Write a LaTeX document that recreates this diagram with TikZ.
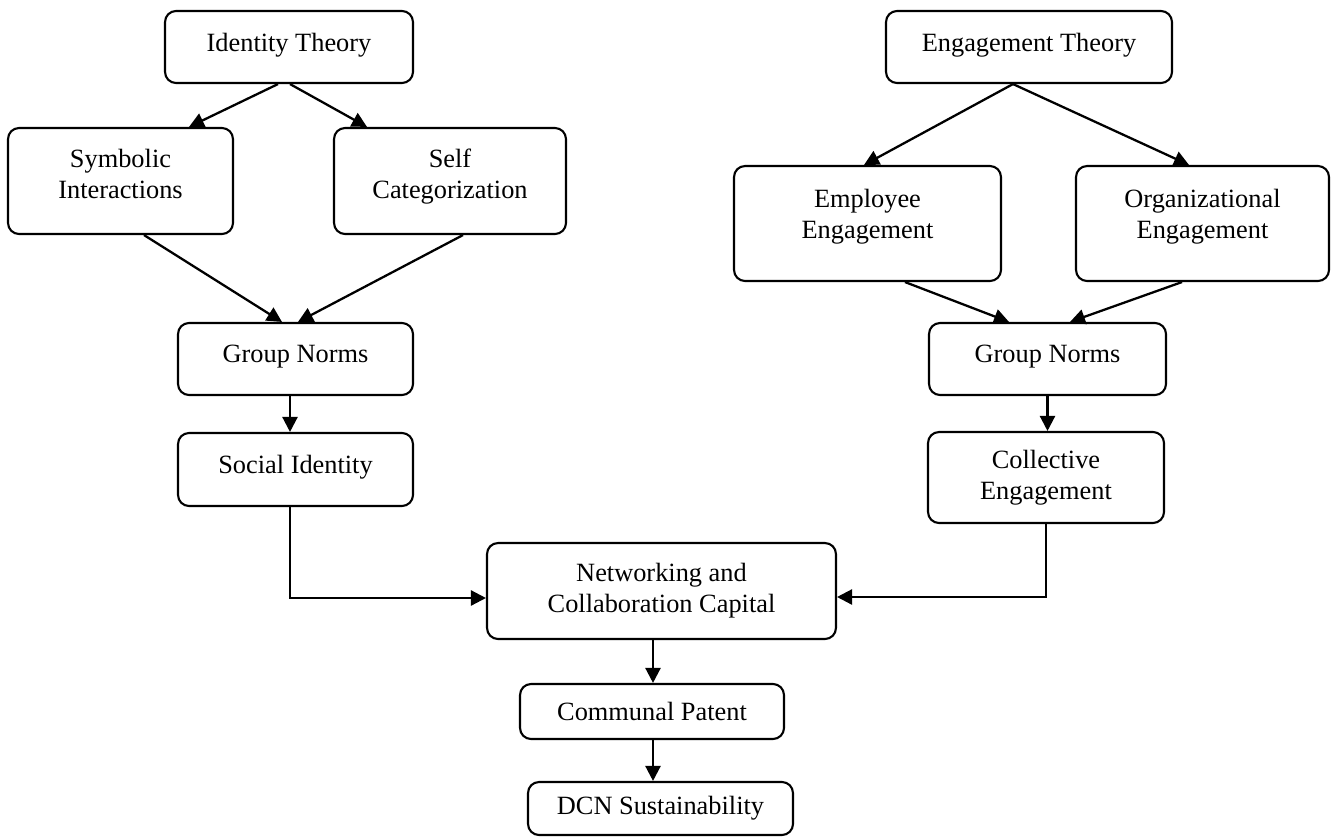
\documentclass[tikz,border=0pt]{standalone}
\usepackage{fontspec}
\setmainfont{Liberation Serif}
\usetikzlibrary{arrows.meta}
\begin{document}
\begin{tikzpicture}[x=0.02cm,y=-0.02cm,
  box/.style={draw=black,line width=1.2pt,rounded corners=0.22cm,align=center,
    inner sep=0pt,font=\fontsize{15}{17.5}\selectfont},
  conn/.style={line width=1.3pt,-{Triangle[length=0.3cm,width=0.3cm]}}]
\useasboundingbox (0,0) rectangle (1333,836);
% left branch
\node[box,minimum width=4.96cm,minimum height=1.44cm,text depth=0.2cm] (it) at (289,47) {Identity Theory};
\node[box,minimum width=4.5cm,minimum height=2.12cm,text depth=0.28cm] (si) at (120.5,181) {Symbolic\\Interactions};
\node[box,minimum width=4.64cm,minimum height=2.12cm,text depth=0.28cm] (sc) at (450,181) {Self\\Categorization};
\node[box,minimum width=4.7cm,minimum height=1.44cm,text depth=0.22cm] (gn1) at (295.5,359) {Group Norms};
\node[box,minimum width=4.7cm,minimum height=1.46cm,text depth=0.22cm] (sid) at (295.5,469.5) {Social Identity};
% right branch
\node[box,minimum width=5.72cm,minimum height=1.44cm,text depth=0.2cm] (et) at (1029,47) {Engagement Theory};
\node[box,minimum width=5.34cm,minimum height=2.3cm,text depth=0.4cm] (ee) at (867.5,223.5) {Employee\\Engagement};
\node[box,minimum width=5.06cm,minimum height=2.3cm,text depth=0.4cm] (oe) at (1202.5,223.5) {Organizational\\Engagement};
\node[box,minimum width=4.74cm,minimum height=1.44cm,text depth=0.22cm] (gn2) at (1047.5,359) {Group Norms};
\node[box,minimum width=4.72cm,minimum height=1.82cm] (ce) at (1046,477.5) {Collective\\Engagement};
% bottom
\node[box,minimum width=6.98cm,minimum height=1.92cm] (nc) at (661.5,591) {Networking and\\Collaboration Capital};
\node[box,minimum width=5.28cm,minimum height=1.1cm] (cp) at (652,711.5) {Communal Patent};
\node[box,minimum width=5.3cm,minimum height=1.06cm] (dcn) at (660.5,808.5) {DCN Sustainability};
% connectors
\draw[conn] ([xshift=-0.22cm]it.south) -- ([xshift=1.37cm]si.north);
\draw[conn] ([xshift=0.02cm]it.south) -- ([xshift=-1.66cm]sc.north);
\draw[conn] ([xshift=0.47cm]si.south) -- ([xshift=-0.27cm]gn1.north);
\draw[conn] ([xshift=0.26cm]sc.south) -- ([xshift=0.05cm]gn1.north);
\draw[conn] ([xshift=-0.11cm]gn1.south) -- ([xshift=-0.11cm]sid.north);
\draw[conn] ([xshift=-0.32cm]et.south) -- ([xshift=-0.07cm]ee.north);
\draw[conn] ([xshift=-0.32cm]et.south) -- ([xshift=-0.27cm]oe.north);
\draw[conn] ([xshift=0.75cm]ee.south) -- ([xshift=-0.77cm]gn2.north);
\draw[conn] ([xshift=-0.41cm]oe.south) -- ([xshift=0.45cm]gn2.north);
\draw[conn] (gn2.south) -- (gn2.south |- ce.north);
\draw[conn] ([xshift=-0.11cm]sid.south) |- ([yshift=-0.14cm]nc.west);
\draw[conn] (ce.south) |- ([yshift=-0.12cm]nc.east);
\draw[conn] ([xshift=-0.17cm]nc.south) -- ([xshift=-0.17cm]nc.south |- cp.north);
\draw[conn] ([xshift=0.02cm]cp.south) -- ([xshift=0.02cm]cp.south |- dcn.north);
\end{tikzpicture}
\end{document}
